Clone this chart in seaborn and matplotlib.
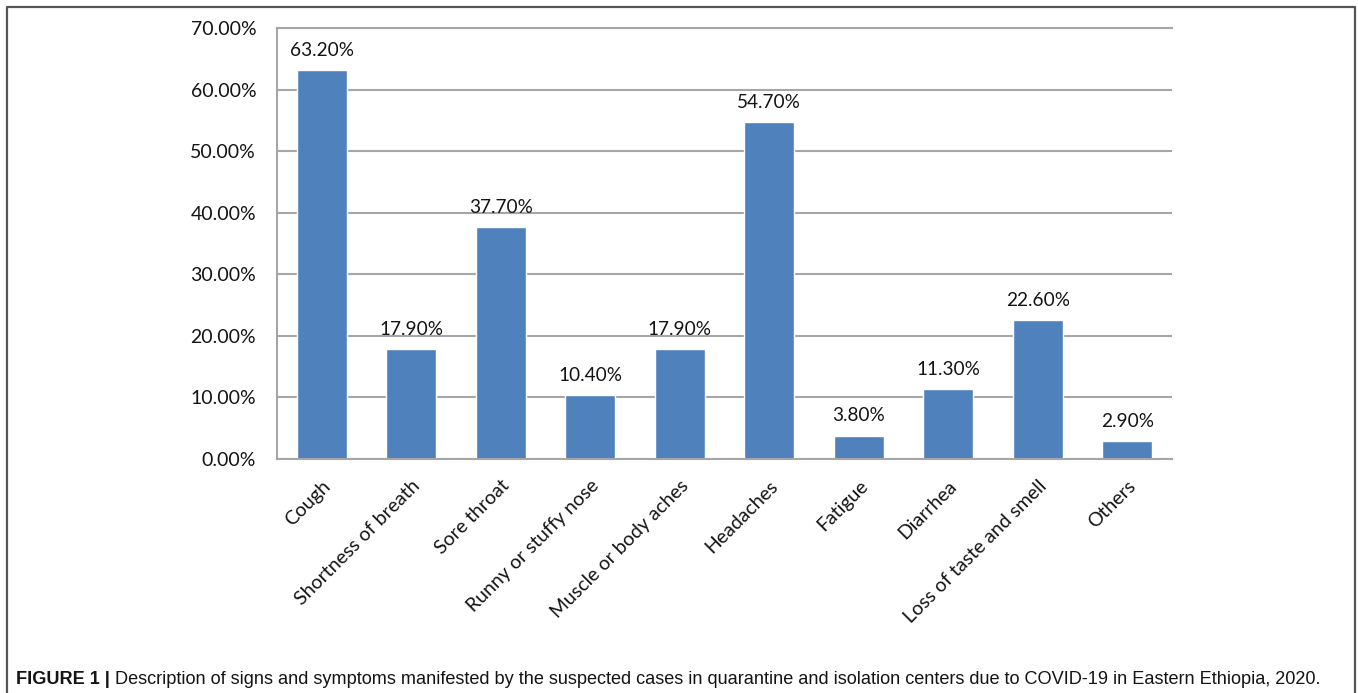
"""
Bar chart of signs and symptoms among suspected COVID-19 cases (Eastern Ethiopia, 2020).
"""

import matplotlib.pyplot as plt
import matplotlib.lines as mlines
import pandas as pd
import seaborn as sns


SYMPTOMS = [
    "Cough",
    "Shortness of breath",
    "Sore throat",
    "Runny or stuffy nose",
    "Muscle or body aches",
    "Headaches",
    "Fatigue",
    "Diarrhea",
    "Loss of taste and smell",
    "Others",
]
PERCENTS = [63.2, 17.9, 37.7, 10.4, 17.9, 54.7, 3.8, 11.3, 22.6, 2.9]
Y_TICKS = [0, 10, 20, 30, 40, 50, 60, 70]

BAR_COLOR = "#4F81BD"
GRID_COLOR = "#A6A6A6"
TEXT_COLOR = "#141414"
CHART_FONT = ["Lato", "DejaVu Sans"]
CAPTION_FONT = ["Liberation Sans", "DejaVu Sans"]


def main() -> None:
    sns.set_theme(style="white", context="notebook")
    plt.rcParams["font.family"] = CHART_FONT

    df = pd.DataFrame({"Symptom": SYMPTOMS, "Percent": PERCENTS})

    W, H = 1358, 693
    fig = plt.figure(figsize=(W / 100, H / 100), dpi=100)
    ax = fig.add_axes([277 / W, 1 - 459 / H, 895 / W, 431 / H])

    sns.barplot(data=df, x="Symptom", y="Percent", color=BAR_COLOR,
                saturation=1, width=0.56, ax=ax)

    # Label nilai di atas tiap batang.
    for container in ax.containers:
        ax.bar_label(container, labels=[f"{v:.2f}%" for v in df["Percent"]],
                     padding=8, fontsize=13.7, color=TEXT_COLOR)

    ax.set_ylim(0, 70)
    ax.set_xlim(-0.5, len(SYMPTOMS) - 0.5)
    ax.set_yticks(Y_TICKS)
    ax.set_yticklabels([f"{t:.2f}%" for t in Y_TICKS], fontsize=14, color=TEXT_COLOR)
    ax.set_xticks(range(len(SYMPTOMS)))
    ax.set_xticklabels(SYMPTOMS, rotation=45, ha="right", rotation_mode="anchor",
                       fontsize=14, color=TEXT_COLOR)
    ax.tick_params(axis="x", pad=13, length=0)
    ax.tick_params(axis="y", pad=15, length=0)
    ax.set_xlabel("")
    ax.set_ylabel("")

    ax.yaxis.grid(True, color=GRID_COLOR, linewidth=1.5)
    ax.set_axisbelow(True)
    ax.spines["right"].set_visible(False)
    for side in ["left", "bottom", "top"]:
        ax.spines[side].set_color(GRID_COLOR)
        ax.spines[side].set_linewidth(1.5)

    # Bingkai luar figure (kiri, atas, kanan).
    xs = [7 / W, 7 / W, 1355 / W, 1355 / W]
    ys = [0, 1 - 7 / H, 1 - 7 / H, 0]
    fig.add_artist(mlines.Line2D(xs, ys, transform=fig.transFigure,
                                 color="#555555", linewidth=1.6))

    # Keterangan gambar: bagian tebal lalu teks biasa tepat di belakangnya.
    cap_y = 1 - 679 / H
    bold = fig.text(16 / W, cap_y, "FIGURE 1 | ", fontsize=13.1, fontweight="bold",
                    family=CAPTION_FONT, color=TEXT_COLOR, va="center", ha="left")
    renderer = fig.canvas.get_renderer()
    bb = bold.get_window_extent(renderer=renderer)
    fig.text(bb.x1 / W, cap_y,
             "Description of signs and symptoms manifested by the suspected cases in "
             "quarantine and isolation centers due to COVID-19 in Eastern Ethiopia, 2020.",
             fontsize=13.1, family=CAPTION_FONT, color=TEXT_COLOR, va="center", ha="left")

    fig.savefig("out.png", dpi=100)
    plt.close(fig)


if __name__ == "__main__":
    main()
